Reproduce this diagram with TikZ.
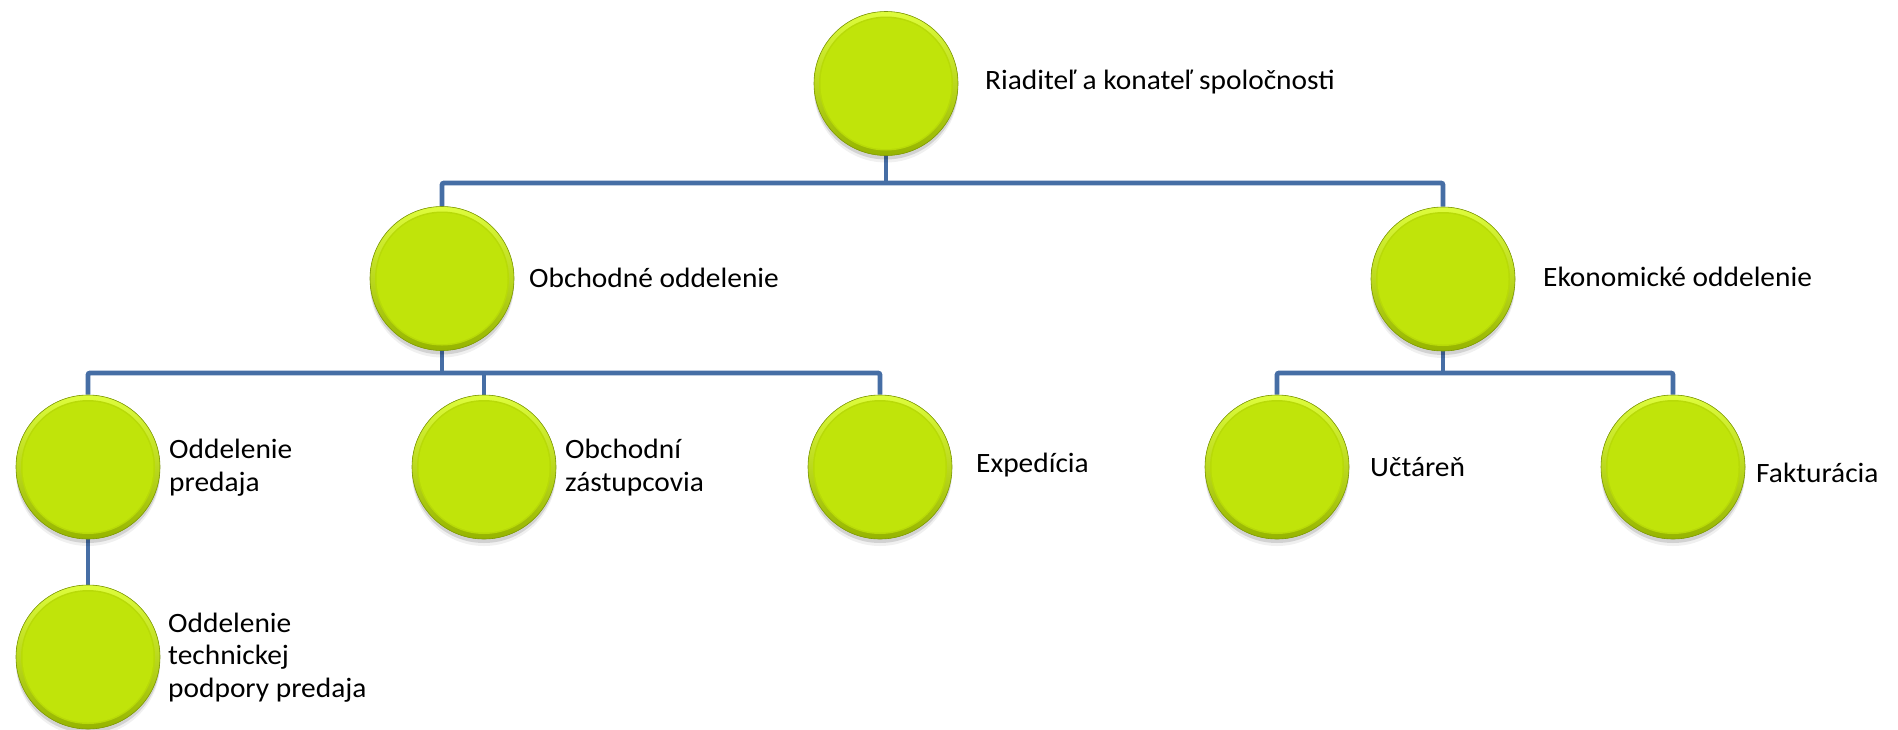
\documentclass[tikz,border=0pt]{standalone}
\usepackage{fontspec}
\setmainfont{Carlito}[FakeStretch=1.05]
\definecolor{limeF}{RGB}{192,228,10}
\definecolor{limeL}{RGB}{222,252,60}
\definecolor{limeD}{RGB}{150,180,0}
\definecolor{limeE}{RGB}{125,150,15}
\definecolor{conn}{RGB}{70,110,165}
\pgfdeclarelayer{background}
\pgfsetlayers{background,main}
\begin{document}
\begin{tikzpicture}[x=1pt,y=-1pt,
  orgc/.style={circle, minimum size=144pt, inner sep=0pt, fill=limeF, draw=limeE, line width=0.6pt,
    preaction={fill=black, opacity=0.06, transform canvas={yshift=-7pt}},
    preaction={fill=black, opacity=0.12, transform canvas={yshift=-4pt}},
    path picture={
      \fill[top color=limeL, bottom color=limeD] (path picture bounding box.south west) rectangle (path picture bounding box.north east);
      \fill[limeF!80!limeD] (path picture bounding box.center) circle[radius=67pt];
      \fill[limeF] (path picture bounding box.center) circle[radius=65.5pt];
    }},
  lbl/.style={anchor=west, align=left, inner sep=0pt, font=\fontsize{28}{32.5}\selectfont},
  link/.style={draw=conn, line width=4.8pt, rounded corners=2pt}]
\useasboundingbox (0,0) rectangle (1898,729);

% circles
\node[orgc] (top)   at (886,83.5) {};
\node[orgc] (obch)  at (442,278.5) {};
\node[orgc] (ekon)  at (1443,279) {};
\node[orgc] (oddp)  at (88,467) {};
\node[orgc] (obchz) at (484,467) {};
\node[orgc] (exped) at (880,467) {};
\node[orgc] (uct)   at (1277,467) {};
\node[orgc] (fakt)  at (1673,467) {};
\node[orgc] (tech)  at (88,657) {};

% labels
\node[lbl] (ltop)   at (985,82)  {Riaditeľ a konateľ spoločnosti};
\node[lbl] (lobch)  at (529,278) {Obchodné oddelenie};
\node[lbl] (lekon)  at (1543,277) {Ekonomické oddelenie};
\node[lbl] (loddp)  at (169,467.5) {Oddelenie\\predaja};
\node[lbl] (lobchz) at (565,467.5) {Obchodní\\zástupcovia};
\node[lbl] (lexped) at (976,465) {Expedícia};
\node[lbl] (luct)   at (1370,467) {Učtáreň};
\node[lbl] (lfakt)  at (1756,473) {Fakturácia};
\node[lbl] (ltech)  at (168,657.5) {Oddelenie\\technickej\\podpory predaja};

% connectors
\coordinate (b1) at (0,183);
\coordinate (b2) at (0,373);
\begin{pgfonlayer}{background}
\fill[white] (0,0) rectangle (1898,729);
\draw[link] (top.south) -- (top.south |- b1);
\draw[link] (obch.north) -- (obch.north |- b1) -- (ekon.north |- b1) -- (ekon.north);
\draw[link] (obch.south) -- (obch.south |- b2);
\draw[link] (oddp.north) -- (oddp.north |- b2) -- (exped.north |- b2) -- (exped.north);
\draw[link] (obchz.north) -- (obchz.north |- b2);
\draw[link] (ekon.south) -- (ekon.south |- b2);
\draw[link] (uct.north) -- (uct.north |- b2) -- (fakt.north |- b2) -- (fakt.north);
\draw[link] (oddp.south) -- (tech.north);
\end{pgfonlayer}
\end{tikzpicture}
\end{document}
